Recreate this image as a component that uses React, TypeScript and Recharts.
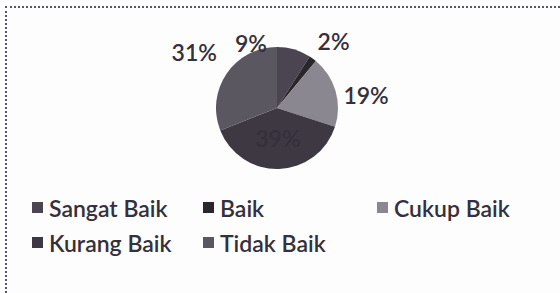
import { PieChart, Pie, Cell, Legend } from 'recharts';

const categories = ['Sangat Baik', 'Baik', 'Cukup Baik', 'Kurang Baik', 'Tidak Baik'];
const percents = [9, 2, 19, 39, 31];
const colors = ['#4a4550', '#2a262c', '#8a8790', '#3d3842', '#5b5760'];

const data = categories.map((name, i) => ({ name, value: percents[i] }));

// label placement nudges (angle shift in degrees, distance from centre)
const labelNudge = [
  { shift: 38, dist: 70 },
  { shift: -4, dist: 88 },
  { shift: -8, dist: 90 },
  { shift: 0, dist: 30 },
  { shift: 0, dist: 100 },
];

const RAD = Math.PI / 180;
const textColor = '#34303c';
const font = 'Lato, "Open Sans", sans-serif';

function renderLabel(props: any) {
  const { cx, cy, midAngle, index, value } = props;
  const n = labelNudge[index];
  const a = (midAngle + n.shift) * RAD;
  const x = cx + Math.cos(a) * n.dist;
  const y = cy - Math.sin(a) * n.dist;
  return (
    <text
      x={x}
      y={y}
      textAnchor="middle"
      dominantBaseline="central"
      fill={textColor}
      fontSize={23}
      fontWeight={600}
      fontFamily={font}
    >
      {value}%
    </text>
  );
}

function LegendBox() {
  return (
    <div
      style={{
        display: 'grid',
        gridTemplateColumns: '171px 174px 180px',
        gridAutoRows: '35px',
        paddingLeft: 32,
        fontFamily: font,
        fontSize: 23,
        fontWeight: 600,
        color: textColor,
      }}
    >
      {categories.map((c, i) => (
        <div key={c} style={{ display: 'flex', alignItems: 'center' }}>
          <span
            style={{
              width: 11,
              height: 11,
              background: colors[i],
              marginRight: 6,
              display: 'inline-block',
            }}
          />
          <span>{c}</span>
        </div>
      ))}
    </div>
  );
}

export default function App() {
  return (
    <div
      style={{
        position: 'fixed',
        left: 0,
        top: 0,
        width: 560,
        height: 293,
        background: '#fdfdfd',
        overflow: 'hidden',
      }}
    >
      <div
        style={{
          position: 'absolute',
          left: 5,
          top: 6,
          right: 0,
          bottom: 0,
          borderTop: '2px dotted #55556a',
          borderLeft: '2px dotted #55556a',
        }}
      />
      <PieChart width={560} height={293}>
        <Pie
          data={data}
          dataKey="value"
          nameKey="name"
          cx={272}
          cy={103}
          outerRadius={61}
          startAngle={90}
          endAngle={-270}
          stroke="none"
          label={renderLabel}
          labelLine={false}
          isAnimationActive={false}
        >
          {data.map((d, i) => (
            <Cell key={d.name} fill={colors[i]} />
          ))}
        </Pie>
        <Legend
          content={<LegendBox />}
          wrapperStyle={{ left: 0, top: 190, width: 560 }}
        />
      </PieChart>
    </div>
  );
}
